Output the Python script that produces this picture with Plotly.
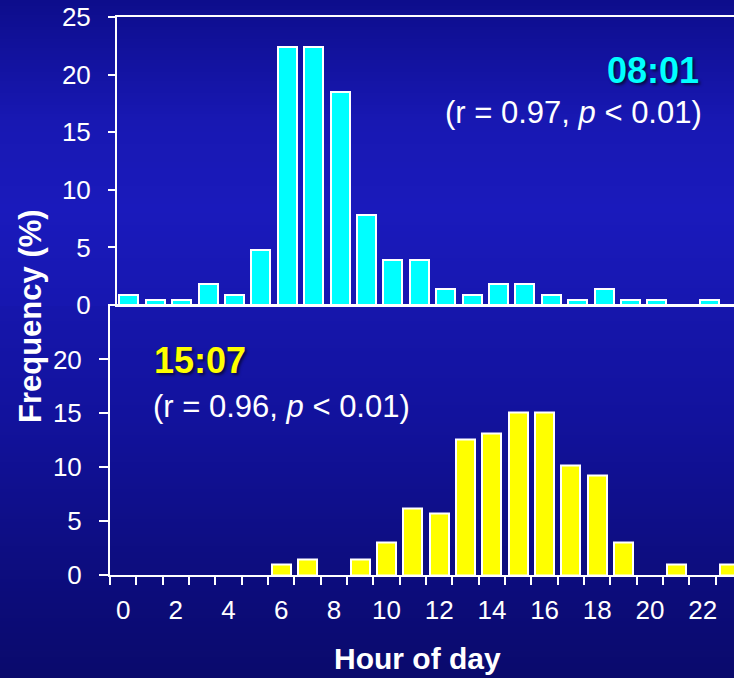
import plotly.graph_objects as go

# ---- data ----
hours = list(range(24))
morning_freq = [0.9, 0.45, 0.45, 1.8, 0.9, 4.8, 22.4, 22.4, 18.5, 7.8, 3.9, 3.9,
                1.4, 0.9, 1.8, 1.8, 0.9, 0.45, 1.4, 0.45, 0.45, 0.0, 0.45, 0.0]
afternoon_freq = [0, 0, 0, 0, 0, 0, 0.95, 1.45, 0, 1.45, 3.0, 6.2,
                  5.7, 12.6, 13.1, 15.1, 15.1, 10.2, 9.2, 3.0, 0, 1.0, 0, 1.0]
x_tick_vals = list(range(0, 24, 2))
y_tick_top = [0, 5, 10, 15, 20, 25]
y_tick_bottom = [0, 5, 10, 15, 20]
morning_label = "08:01"
morning_stats = "(r = 0.97, <i>p</i> &lt; 0.01)"
afternoon_label = "15:07"
afternoon_stats = "(r = 0.96, <i>p</i> &lt; 0.01)"

W, H = 734, 678
FONT = "Arial, Liberation Sans, sans-serif"


def px_x(p):
    return p / W


def px_y(p):
    return 1 - p / H


def nz(vals):
    # zero-height bars are not drawn in the original
    return [v if v > 0 else None for v in vals]


fig = go.Figure()

# background gradient bands
def lerp(c1, c2, t):
    return tuple(round(a + (b - a) * t) for a, b in zip(c1, c2))

stops = [(0, (13, 13, 140)), (120, (24, 24, 178)), (210, (26, 26, 188)),
         (305, (23, 23, 176)), (306, (22, 22, 172)), (420, (18, 18, 156)),
         (560, (13, 13, 128)), (678, (10, 10, 108))]

def color_at(y):
    for (y0, c0), (y1, c1) in zip(stops[:-1], stops[1:]):
        if y0 <= y <= y1:
            t = 0 if y1 == y0 else (y - y0) / (y1 - y0)
            return lerp(c0, c1, t)
    return stops[-1][1]

shapes = []
step = 3
for y in range(0, H, step):
    c = color_at(y + step / 2)
    shapes.append(dict(type="rect", xref="paper", yref="paper", x0=0, x1=1,
                       y0=px_y(y + step), y1=px_y(y), line=dict(width=0),
                       fillcolor="rgb(%d,%d,%d)" % c, layer="below"))

fig.add_trace(go.Bar(x=hours, y=nz(morning_freq), width=0.72, xaxis="x", yaxis="y",
                     marker=dict(color="#00ffff", line=dict(color="white", width=2)),
                     showlegend=False))
fig.add_trace(go.Bar(x=hours, y=nz(afternoon_freq), width=0.72, xaxis="x2", yaxis="y2",
                     marker=dict(color="#ffff00", line=dict(color="white", width=2)),
                     showlegend=False))

tickfont = dict(family=FONT, size=26, color="white")

fig.update_layout(
    width=W, height=H,
    margin=dict(l=0, r=0, t=0, b=0, pad=0, autoexpand=False),
    paper_bgcolor="rgb(20,20,160)",
    plot_bgcolor="rgba(0,0,0,0)",
    shapes=shapes,
    bargap=0,
    xaxis=dict(domain=[px_x(117), 1], range=[-0.45, 22.92], showline=True,
               linecolor="white", linewidth=2, mirror=True, showgrid=False,
               zeroline=False, showticklabels=False, ticks="", anchor="y",
               automargin=False),
    yaxis=dict(domain=[px_y(305), px_y(17)], range=[0, 25], tickvals=y_tick_top,
               showline=True, linecolor="white", linewidth=2, ticks="outside",
               ticklen=7, tickwidth=2, tickcolor="white", showgrid=False,
               zeroline=False, tickfont=tickfont, ticklabelstandoff=12, anchor="x",
               automargin=False),
    xaxis2=dict(domain=[px_x(110), 1], range=[-0.5, 23.19], tickvals=x_tick_vals,
                showline=True, linecolor="white", linewidth=2, mirror=True,
                ticks="outside", ticklen=11, tickcolor="rgba(0,0,0,0)",
                minor=dict(tick0=-0.5, dtick=1, ticks="outside", ticklen=8,
                           tickwidth=2, tickcolor="white"),
                showgrid=False, zeroline=False, tickfont=tickfont, anchor="y2",
                automargin=False),
    yaxis2=dict(domain=[px_y(575), px_y(305.5)], range=[0, 25], tickvals=y_tick_bottom,
                showline=True, linecolor="white", linewidth=2, ticks="outside",
                ticklen=9, tickwidth=2, tickcolor="white", showgrid=False,
                zeroline=False, tickfont=tickfont, ticklabelstandoff=12, anchor="x2",
                automargin=False),
)

shadow = "2px 2px 3px rgba(0,0,0,0.6)"
ann = [
    dict(text=morning_label, x=px_x(701), y=px_y(71), xanchor="right", yanchor="middle",
         font=dict(family=FONT, size=36, color="#00ffff", weight="bold", shadow=shadow)),
    dict(text=morning_stats, x=px_x(704), y=px_y(112), xanchor="right", yanchor="middle",
         font=dict(family=FONT, size=31, color="white")),
    dict(text=afternoon_label, x=px_x(152), y=px_y(360), xanchor="left", yanchor="middle",
         font=dict(family=FONT, size=36, color="#ffff00", weight="bold", shadow=shadow)),
    dict(text=afternoon_stats, x=px_x(151), y=px_y(406), xanchor="left", yanchor="middle",
         font=dict(family=FONT, size=31, color="white")),
    dict(text="Frequency (%)", x=px_x(30), y=px_y(316), xanchor="center", yanchor="middle",
         textangle=-90, font=dict(family=FONT, size=31, color="white", weight="bold")),
    dict(text="Hour of day", x=px_x(417), y=px_y(658), xanchor="center", yanchor="middle",
         font=dict(family=FONT, size=30, color="white", weight="bold")),
]
for a in ann:
    a.update(xref="paper", yref="paper", showarrow=False)
fig.update_layout(annotations=ann)

post = ("document.documentElement.style.margin='0';"
        "document.body.style.margin='0';document.body.style.padding='0';"
        "document.body.style.overflow='hidden';"
        "var gd=document.getElementById('{plot_id}');"
        "Plotly.relayout(gd,{width:734,height:678});")

fig.write_html("out.html", config={"responsive": False, "displayModeBar": False},
               post_script=post)
